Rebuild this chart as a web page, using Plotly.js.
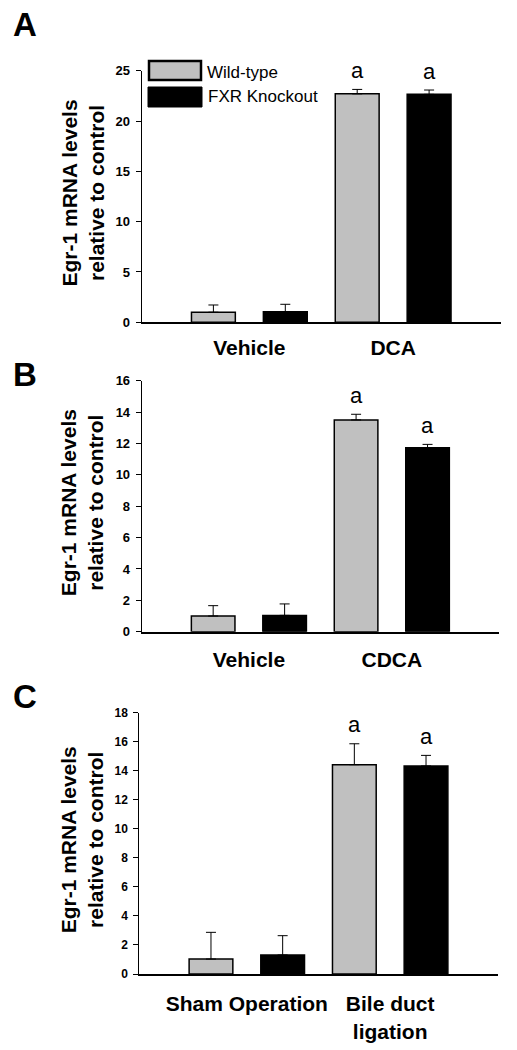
<!DOCTYPE html>
<html>
<head>
<meta charset="utf-8">
<script src="https://cdn.plot.ly/plotly-3.0.1.min.js"></script>
<style>html,body{margin:0;padding:0;background:#fff;}#chart{width:517px;height:1050px;}</style>
</head>
<body>
<div id="chart"></div>
<script>
// ---------- data ----------
const seriesNames = ['Wild-type', 'FXR Knockout'];

const categoriesA = ['Vehicle', 'DCA'];
const wildTypeA = [1.0, 22.7];
const knockoutA = [1.05, 22.65];
const wildTypeErrA = [0.72, 0.44];
const knockoutErrA = [0.74, 0.43];
const wildTypeSigA = ['', 'a'];
const knockoutSigA = ['', 'a'];

const categoriesB = ['Vehicle', 'CDCA'];
const wildTypeB = [1.0, 13.5];
const knockoutB = [1.04, 11.73];
const wildTypeErrB = [0.66, 0.36];
const knockoutErrB = [0.73, 0.21];
const wildTypeSigB = ['', 'a'];
const knockoutSigB = ['', 'a'];

const categoriesC = ['Sham Operation', 'Bile duct<br>ligation'];
const wildTypeC = [1.03, 14.42];
const knockoutC = [1.31, 14.33];
const wildTypeErrC = [1.84, 1.44];
const knockoutErrC = [1.33, 0.73];
const wildTypeSigC = ['', 'a'];
const knockoutSigC = ['', 'a'];

const panelLetters = ['A', 'B', 'C'];
const yTitle = 'Egr-1 mRNA levels<br>relative to control';
const yMax = [25, 16, 18];
const yStep = [5, 2, 2];

// ---------- styling ----------
const W = 517, H = 1050;
const FONT = 'Liberation Sans, Arial, Helvetica, sans-serif';
const GRAY = '#c0c0c0';
const px = v => v / W;          // x pixel -> paper
const py = v => 1 - v / H;      // y pixel -> paper

const panels = [
  {cats: categoriesA, wt: wildTypeA, ko: knockoutA, wtE: wildTypeErrA, koE: knockoutErrA, wtS: wildTypeSigA, koS: knockoutSigA,
   xd: [141.5, 501], yd: [322.3, 70.7], tickSize: 13, catStand: 5, letterY: 24},
  {cats: categoriesB, wt: wildTypeB, ko: knockoutB, wtE: wildTypeErrB, koE: knockoutErrB, wtS: wildTypeSigB, koS: knockoutSigB,
   xd: [141.7, 499], yd: [631.7, 380.7], tickSize: 13, catStand: 8, letterY: 374},
  {cats: categoriesC, wt: wildTypeC, ko: knockoutC, wtE: wildTypeErrC, koE: knockoutErrC, wtS: wildTypeSigC, koS: knockoutSigC,
   xd: [139.3, 497.7], yd: [974, 712.7], tickSize: 12, catStand: 10, letterY: 696}
];

const traces = [];
const annotations = [];
const shapes = [];
const layout = {
  width: W, height: H, autosize: false,
  margin: {l: 0, r: 0, t: 0, b: 0},
  paper_bgcolor: '#fff', plot_bgcolor: '#fff',
  barmode: 'group', bargap: 0, bargroupgap: 0.39,
  showlegend: false,
  font: {family: FONT, color: '#000'}
};

panels.forEach((p, i) => {
  const s = i === 0 ? '' : String(i + 1);
  const xa = 'x' + s, ya = 'y' + s;
  const common = {type: 'bar', x: p.cats, xaxis: xa, yaxis: ya, hoverinfo: 'skip'};
  traces.push(Object.assign({}, common, {
    name: seriesNames[0], y: p.wt,
    marker: {color: GRAY, line: {color: '#000', width: 1.5}},
    error_y: {type: 'data', array: p.wtE, arrayminus: p.wtE.map(() => 0), symmetric: false, color: '#000', thickness: 1, width: 5}
  }));
  traces.push(Object.assign({}, common, {
    name: seriesNames[1], y: p.ko,
    marker: {color: '#000', line: {color: '#000', width: 1.5}},
    error_y: {type: 'data', array: p.koE, arrayminus: p.koE.map(() => 0), symmetric: false, color: '#000', thickness: 1, width: 5}
  }));

  layout['xaxis' + s] = {
    domain: [px(p.xd[0]), px(p.xd[1])], anchor: ya, type: 'category',
    range: [-0.75, 1.75], fixedrange: true,
    showline: true, linecolor: '#000', linewidth: 2, ticks: '',
    showgrid: false, zeroline: false,
    tickfont: {family: FONT, size: 21, weight: 'bold', color: '#000'},
    ticklabelstandoff: p.catStand
  };
  layout['yaxis' + s] = {
    domain: [py(p.yd[0]), py(p.yd[1])], anchor: xa,
    range: [0, yMax[i]], dtick: yStep[i], tick0: 0, fixedrange: true,
    showline: true, linecolor: '#000', linewidth: 1,
    ticks: 'outside', ticklen: 5, tickwidth: 1, tickcolor: '#000',
    showgrid: false, zeroline: false,
    tickfont: {family: FONT, size: p.tickSize, weight: 'bold', color: '#000'},
    ticklabelstandoff: 3
  };

  // significance letters above error bars
  p.cats.forEach((c, j) => {
    [[p.wtS, p.wt, p.wtE, -0.25], [p.koS, p.ko, p.koE, 0.25]].forEach(([sig, v, e, off]) => {
      if (sig[j]) {
        annotations.push({
          xref: xa, yref: ya, x: j + off, y: v[j] + e[j],
          text: sig[j], showarrow: false, yanchor: 'middle', yshift: 19,
          font: {family: FONT, size: 22, color: '#000'}
        });
      }
    });
  });

  // y-axis title
  const yc = (p.yd[0] + p.yd[1]) / 2 - 3;
  annotations.push({
    xref: 'paper', yref: 'paper', x: px(82), y: py(yc),
    text: yTitle, textangle: -90, showarrow: false,
    xanchor: 'center', yanchor: 'middle',
    font: {family: FONT, size: 21, weight: 'bold', color: '#000'}
  });

  // panel letter
  annotations.push({
    xref: 'paper', yref: 'paper', x: px(11), y: py(p.letterY),
    text: panelLetters[i], showarrow: false, xanchor: 'left', yanchor: 'middle',
    font: {family: FONT, size: 33, weight: 'bold', color: '#000'}
  });
});

// legend (panel A)
shapes.push({type: 'rect', xref: 'paper', yref: 'paper', x0: px(149), x1: px(201), y0: py(80), y1: py(61),
  fillcolor: GRAY, line: {color: '#000', width: 2.5}});
shapes.push({type: 'rect', xref: 'paper', yref: 'paper', x0: px(148), x1: px(202), y0: py(107), y1: py(87),
  fillcolor: '#000', line: {color: '#000', width: 1}});
annotations.push({xref: 'paper', yref: 'paper', x: px(205), y: py(72), text: seriesNames[0], showarrow: false,
  xanchor: 'left', yanchor: 'middle', font: {family: FONT, size: 17, color: '#000'}});
annotations.push({xref: 'paper', yref: 'paper', x: px(206), y: py(97), text: seriesNames[1], showarrow: false,
  xanchor: 'left', yanchor: 'middle', font: {family: FONT, size: 17, color: '#000'}});

layout.annotations = annotations;
layout.shapes = shapes;

Plotly.newPlot('chart', traces, layout, {staticPlot: true, displayModeBar: false});
</script>
</body>
</html>
